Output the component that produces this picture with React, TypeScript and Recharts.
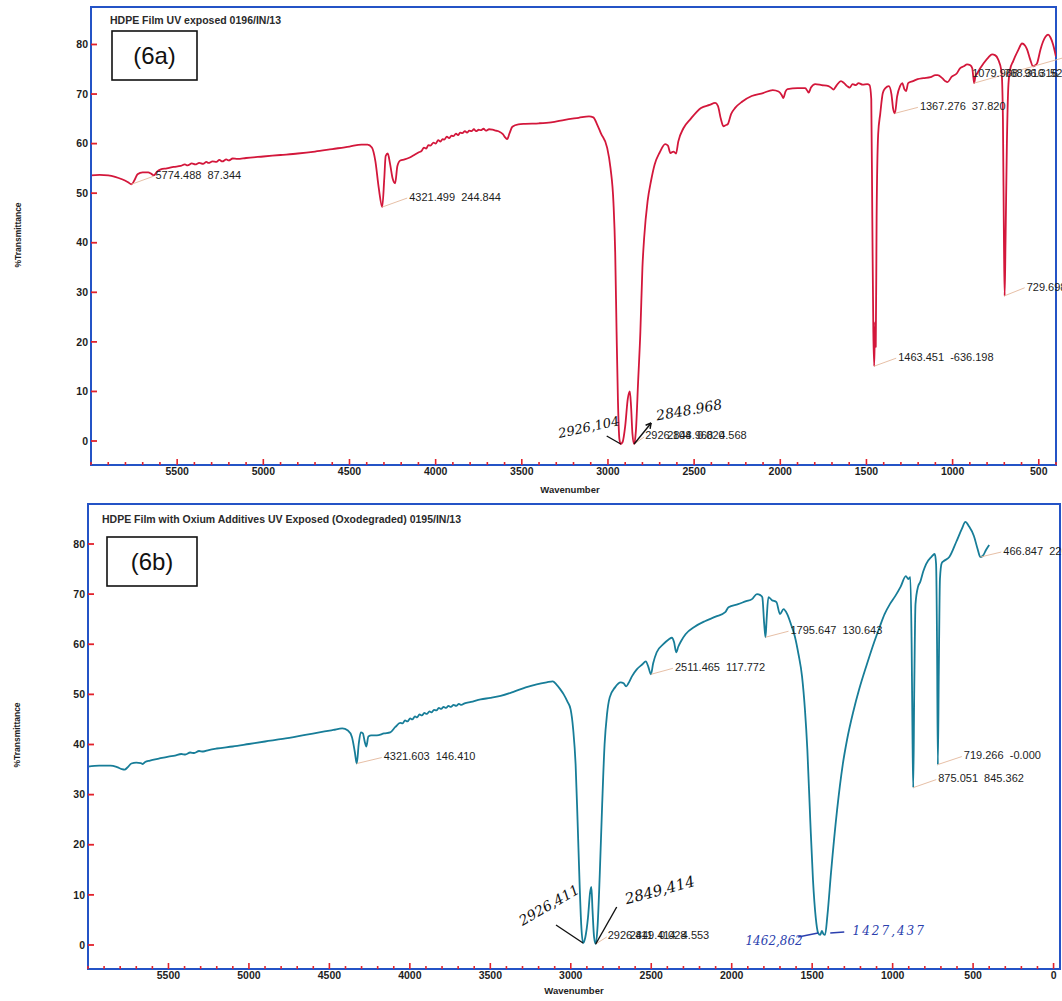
import React from 'react';
import { ComposedChart, Line, XAxis, YAxis, ReferenceArea, ReferenceDot } from 'recharts';

// ---- data: [wavenumber, %T] ----
const traceA: [number, number][] = [
  [6000, 53.6], [5950, 53.7], [5900, 53.6], [5860, 53.3], [5820, 52.8], [5785, 52.2], [5765, 51.8], [5748, 52.6],
  [5730, 53.8], [5700, 54.2], [5668, 54.2], [5650, 53.9], [5635, 53.6], [5618, 54.3], [5595, 54.8], [5560, 55.0],
  [5520, 55.3], [5480, 55.5], [5455, 55.8], [5440, 55.6], [5415, 56.0], [5395, 55.8], [5372, 56.1], [5350, 55.9],
  [5330, 56.3], [5318, 56.1], [5295, 56.4], [5272, 56.3], [5255, 56.7], [5238, 56.4], [5215, 56.8], [5200, 56.6],
  [5178, 57.0], [5150, 56.9], [5100, 57.1], [5000, 57.4], [4900, 57.7], [4800, 58.0], [4700, 58.4], [4600, 58.9],
  [4500, 59.4], [4430, 59.8], [4395, 59.8], [4370, 59.2], [4350, 56.5], [4330, 51.0], [4310, 47.2], [4298, 53.0],
  [4290, 57.5], [4278, 58.0], [4265, 56.0], [4250, 53.0], [4235, 52.0], [4222, 55.5], [4205, 56.6], [4180, 56.8],
  [4150, 57.2], [4120, 57.8], [4100, 58.2], [4080, 58.6], [4068, 59.2], [4055, 59.0], [4042, 59.7], [4030, 59.6],
  [4012, 60.2], [4000, 60.0], [3985, 60.7], [3972, 60.4], [3960, 60.9], [3950, 60.8], [3935, 61.4], [3922, 61.1],
  [3908, 61.6], [3898, 61.5], [3882, 62.0], [3870, 61.7], [3858, 62.2], [3845, 62.1], [3830, 62.5], [3818, 62.2],
  [3805, 62.6], [3792, 62.5], [3778, 62.9], [3765, 62.5], [3750, 62.8], [3738, 62.7], [3722, 63.0], [3708, 62.6],
  [3690, 62.9], [3670, 62.8], [3650, 62.6], [3630, 62.4], [3610, 61.9], [3595, 61.2], [3585, 60.9], [3572, 62.0],
  [3555, 63.4], [3520, 63.9], [3480, 64.0], [3400, 64.1], [3330, 64.3], [3250, 64.8], [3170, 65.2], [3110, 65.5],
  [3085, 65.3], [3062, 63.8], [3040, 62.0], [3005, 59.2], [2985, 55.0], [2968, 48.0], [2958, 38.0], [2950, 22.0],
  [2942, 8.0], [2934, 0.5], [2926, -0.6], [2915, -0.2], [2900, 3.0], [2885, 8.5], [2873, 10.0], [2866, 7.0],
  [2858, 1.5], [2848, -0.6], [2838, 2.0], [2825, 12.0], [2812, 22.0], [2800, 35.0], [2790, 41.0], [2770, 48.4],
  [2750, 52.5], [2729, 55.8], [2700, 58.2], [2668, 59.9], [2652, 59.6], [2638, 58.1], [2620, 58.4], [2605, 58.0],
  [2592, 60.4], [2562, 63.1], [2520, 65.0], [2460, 67.2], [2410, 67.8], [2378, 68.2], [2362, 67.6], [2345, 65.0],
  [2330, 63.5], [2318, 63.7], [2305, 63.9], [2285, 66.0], [2262, 67.2], [2220, 68.5], [2166, 69.6], [2100, 70.2],
  [2044, 70.8], [2010, 70.5], [1992, 69.8], [1982, 69.2], [1970, 70.5], [1958, 71.0], [1900, 71.2], [1855, 71.2],
  [1842, 70.6], [1835, 70.3], [1822, 71.3], [1797, 72.0], [1760, 71.8], [1720, 71.6], [1702, 71.2], [1692, 70.9],
  [1672, 71.8], [1648, 72.6], [1630, 72.2], [1612, 71.6], [1598, 71.3], [1580, 72.0], [1562, 71.8], [1546, 72.2],
  [1522, 71.9], [1495, 72.0], [1482, 71.8], [1472, 69.0], [1466, 45.0], [1460, 22.0], [1455, 15.1], [1450, 24.0],
  [1446, 19.0], [1441, 45.0], [1432, 61.9], [1420, 66.0], [1405, 70.2], [1390, 71.2], [1370, 71.6], [1355, 70.0],
  [1345, 67.0], [1335, 66.1], [1322, 69.5], [1305, 71.6], [1292, 72.2], [1280, 71.0], [1270, 70.6], [1258, 72.2],
  [1230, 72.6], [1203, 73.0], [1170, 73.2], [1128, 73.4], [1100, 73.8], [1087, 73.8], [1060, 73.2], [1042, 72.6],
  [1030, 72.4], [1005, 73.5], [975, 74.2], [957, 75.2], [935, 75.6], [916, 76.0], [897, 75.8], [886, 75.2],
  [880, 73.5], [875, 72.2], [868, 73.5], [857, 74.2], [820, 76.2], [792, 77.4], [771, 78.0], [752, 77.8],
  [736, 77.0], [716, 74.5], [708, 65.0], [702, 40.0], [698, 29.3], [693, 40.0], [685, 60.0], [676, 72.0],
  [666, 75.0], [649, 76.6], [620, 78.8], [597, 80.2], [580, 79.8], [568, 79.0], [550, 77.0], [533, 75.6],
  [520, 75.8], [510, 76.2], [490, 79.0], [475, 80.6], [460, 81.6], [446, 82.0], [432, 81.4], [417, 80.0],
  [400, 77.5],
];

const traceB: [number, number][] = [
  [6000, 35.6], [5930, 35.8], [5860, 35.8], [5820, 35.5], [5790, 35.1], [5772, 35.0], [5755, 35.4], [5730, 36.2],
  [5700, 36.4], [5672, 36.3], [5660, 36.1], [5645, 36.5], [5615, 36.8], [5560, 37.2], [5500, 37.6], [5460, 37.8],
  [5420, 38.1], [5395, 38.0], [5365, 38.4], [5340, 38.3], [5310, 38.7], [5285, 38.6], [5250, 38.9], [5200, 39.2],
  [5100, 39.6], [5000, 40.1], [4900, 40.6], [4790, 41.1], [4650, 41.9], [4530, 42.6], [4475, 42.9], [4420, 43.2],
  [4385, 42.8], [4360, 41.5], [4342, 38.5], [4330, 36.2], [4318, 40.0], [4305, 42.4], [4292, 42.2], [4280, 40.5],
  [4270, 39.6], [4258, 41.6], [4240, 41.8], [4205, 41.8], [4160, 42.2], [4122, 42.4], [4090, 43.5], [4060, 44.3],
  [4045, 44.2], [4030, 44.8], [4015, 44.6], [3998, 45.2], [3985, 45.0], [3968, 45.6], [3955, 45.4], [3940, 46.0],
  [3925, 45.8], [3910, 46.3], [3895, 46.1], [3878, 46.6], [3866, 46.4], [3850, 46.9], [3835, 46.8], [3820, 47.3],
  [3805, 47.1], [3790, 47.5], [3775, 47.3], [3760, 47.7], [3745, 47.5], [3728, 47.9], [3712, 47.7], [3695, 48.1],
  [3680, 47.9], [3660, 48.2], [3620, 48.5], [3560, 49.0], [3500, 49.3], [3436, 49.7], [3349, 50.6], [3280, 51.4],
  [3212, 52.0], [3150, 52.4], [3112, 52.6], [3090, 52.0], [3065, 51.0], [3044, 50.0], [3020, 48.5], [3001, 47.0],
  [2985, 43.0], [2970, 36.0], [2958, 25.0], [2945, 12.0], [2935, 4.0], [2924, 0.4], [2910, 1.5], [2893, 5.5],
  [2880, 10.5], [2872, 11.6], [2865, 7.0], [2855, 1.5], [2845, 0.2], [2833, 4.0], [2820, 14.0], [2805, 28.0],
  [2790, 40.0], [2775, 46.0], [2758, 49.4], [2725, 51.4], [2690, 52.4], [2672, 52.2], [2656, 51.6], [2642, 52.2],
  [2620, 53.6], [2590, 55.0], [2555, 56.0], [2534, 56.6], [2518, 55.5], [2502, 54.0], [2488, 56.2], [2466, 58.4],
  [2425, 60.0], [2390, 61.0], [2372, 61.3], [2358, 60.4], [2345, 58.4], [2332, 59.5], [2315, 60.6], [2287, 62.0],
  [2230, 63.5], [2167, 64.6], [2100, 65.5], [2040, 66.4], [2020, 67.4], [1960, 68.0], [1910, 68.6], [1874, 69.0],
  [1843, 70.0], [1822, 69.8], [1810, 69.4], [1798, 64.0], [1790, 61.4], [1783, 65.0], [1772, 69.4], [1750, 68.8],
  [1722, 68.4], [1700, 66.0], [1678, 67.0], [1655, 66.0], [1632, 64.0], [1608, 61.6], [1585, 58.0], [1563, 53.6],
  [1545, 47.0], [1530, 39.0], [1512, 25.0], [1495, 13.0], [1478, 5.5], [1463, 2.4], [1450, 2.0], [1440, 2.8],
  [1430, 2.2], [1420, 2.0], [1405, 6.0], [1383, 14.4], [1345, 27.0], [1310, 36.0], [1283, 41.0], [1245, 46.5],
  [1208, 51.0], [1160, 56.0], [1115, 60.4], [1080, 63.5], [1050, 66.0], [1017, 68.0], [984, 69.6], [950, 71.5],
  [918, 73.6], [902, 73.0], [890, 73.4], [882, 60.0], [876, 40.0], [872, 31.4], [866, 50.0], [858, 68.0],
  [842, 71.5], [829, 72.4], [810, 74.5], [792, 76.0], [760, 77.4], [738, 78.0], [730, 76.0], [724, 60.0],
  [719, 36.0], [713, 55.0], [706, 73.0], [695, 76.2], [682, 76.6], [648, 77.4], [605, 80.4], [570, 83.0],
  [548, 84.4], [525, 83.5], [495, 81.6], [472, 79.0], [455, 77.4], [440, 77.6], [420, 78.8], [400, 79.8],
];

const yTickValues = [0, 10, 20, 30, 40, 50, 60, 70, 80];
const xLabelsA = [5500, 5000, 4500, 4000, 3500, 3000, 2500, 2000, 1500, 1000, 500];
const xLabelsB = [5500, 5000, 4500, 4000, 3500, 3000, 2500, 2000, 1500, 1000, 500, 0];

const titleA = 'HDPE Film UV exposed 0196/IN/13';
const titleB = 'HDPE Film with Oxium Additives UV Exposed (Oxodegraded) 0195/IN/13';

// printed peak picks
const peaksA = [
  { w: 5765, t: 51.8, text: ['5774.488  87.344'] },
  { w: 4310, t: 47.2, text: ['4321.499  244.844'] },
  { w: 2848, t: -0.6, text: ['2926.104  0.020', '2848.968  4.568'] },
  { w: 1455, t: 15.1, text: ['1463.451  -636.198'] },
  { w: 1335, t: 66.1, text: ['1367.276  37.820'] },
  { w: 875, t: 72.2, text: ['1079.968  96.316', '768.316  524.683'] },
  { w: 698, t: 29.3, text: ['729.698  301.520'] },
];
const peaksB = [
  { w: 4330, t: 36.2, text: ['4321.603  146.410'] },
  { w: 2502, t: 54.0, text: ['2511.465  117.772'] },
  { w: 1790, t: 61.4, text: ['1795.647  130.643'] },
  { w: 455, t: 77.4, text: ['466.847  226.510'] },
  { w: 719, t: 36.0, text: ['719.266  -0.000'] },
  { w: 872, t: 31.4, text: ['875.051  845.362'] },
  { w: 2845, t: 0.2, text: ['2926.411  0.028', '2849.414  4.553'] },
];

// hand-written notes on the scan
const notesA = [
  { w: 2926, t: -0.6, text: '2926,104' },
  { w: 2848, t: -0.6, text: '2848.968' },
];
const notesB = [
  { w: 2924, t: 0.4, text: '2926,411' },
  { w: 2845, t: 0.2, text: '2849,414' },
  { w: 1463, t: 2.4, text: '1462,862' },
  { w: 1425, t: 2.0, text: '1427,437' },
];

// ---- styling ----
const BLUE = '#2453c6';
const RED = '#e2222c';
const INK = '#1d1d1d';
const LEADER = '#e3b89c';
const SANS = '"Liberation Sans", Arial, Helvetica, sans-serif';
const HAND = '"DejaVu Serif", "Liberation Serif", serif';

// label placement relative to the peak point: text offset, leader end, extra offset of overlapped text
const peakStyleA = [
  { tx: 24, ty: -9, lx: 22, ly: -8 },
  { tx: 27, ty: -10, lx: 25, ly: -9 },
  { tx: 11, ty: -9, lx: 10, ly: -7, tx2: 33 },
  { tx: 24, ty: -9, lx: 22, ly: -8 },
  { tx: 25, ty: -7, lx: 23, ly: -6 },
  { tx: -2, ty: -10, lx: 88, ly: -25, tx2: 30 },
  { tx: 22, ty: -9, lx: 20, ly: -8 },
];
const peakStyleB = [
  { tx: 27, ty: -7, lx: 25, ly: -6 },
  { tx: 24, ty: -7, lx: 22, ly: -6 },
  { tx: 25, ty: -7, lx: 23, ly: -6 },
  { tx: 23, ty: -6, lx: 21, ly: -5 },
  { tx: 26, ty: -9, lx: 24, ly: -8 },
  { tx: 25, ty: -9, lx: 23, ly: -8 },
  { tx: 12, ty: -9, lx: 11, ly: -7, tx2: 34 },
];
// hand notes: text centre + rotation, stroke from (ax,ay) to (bx,by)
const noteStyleA = [
  { cx: -32, cy: -17, rot: -12, ax: -14, ay: -8, bx: 0, by: 0, size: 13, color: '#111' },
  { cx: 55, cy: -34, rot: -10, ax: 0, ay: 0, bx: 17, by: -21, arrow: true, size: 14, color: '#111' },
];
const noteStyleB = [
  { cx: -34, cy: -38, rot: -30, ax: -27, ay: -18, bx: 0, by: 0, size: 14, color: '#111' },
  { cx: 64, cy: -54, rot: -15, ax: 0, ay: 0, bx: 21, by: -37, size: 15, color: '#111' },
  { cx: -44, cy: 8, rot: 0, ax: -20, ay: 4, bx: 0, by: 0, size: 12, color: '#2b3fae' },
  { cx: 65, cy: -4, rot: 0, ax: 6, ay: -2, bx: 20, by: -3, size: 12, color: '#2b3fae', spacing: 2 },
];

function hundreds(from: number, to: number) {
  const out: number[] = [];
  for (let v = from; v >= to; v -= 100) out.push(v);
  return out;
}

function makeXTick(labels: number[]) {
  return (p: any) => {
    const v = p.payload.value;
    const major = labels.includes(v);
    return (
      <g>
        <line x1={p.x} x2={p.x} y1={p.y} y2={p.y - (major ? 6 : 3)} stroke={RED} strokeWidth={1.6} />
        {major && (
          <text x={p.x} y={p.y + 10} textAnchor="middle" fontFamily={SANS} fontWeight="bold" fontSize={10.5} fill={INK}>
            {v}
          </text>
        )}
      </g>
    );
  };
}

function YTick(p: any) {
  return (
    <g>
      <line x1={p.x} x2={p.x + 6} y1={p.y} y2={p.y} stroke={RED} strokeWidth={1.8} />
      <text x={p.x - 3} y={p.y} dy="0.35em" textAnchor="end" fontFamily={SANS} fontWeight="bold" fontSize={10.5} fill={INK}>
        {p.payload.value}
      </text>
    </g>
  );
}

function PeakLabel(props: any) {
  const { cx, cy, text, s } = props;
  return (
    <g>
      <line x1={cx} y1={cy} x2={cx + s.lx} y2={cy + s.ly} stroke={LEADER} strokeWidth={0.9} />
      {text.map((tx: string, i: number) => (
        <text
          key={i}
          x={cx + (i === 0 ? s.tx : s.tx2)}
          y={cy + s.ty}
          dy="0.35em"
          fontFamily={SANS}
          fontSize={11}
          fill={INK}
          style={{ whiteSpace: 'pre' }}
        >
          {tx}
        </text>
      ))}
    </g>
  );
}

function HandNote(props: any) {
  const { cx, cy, text, s } = props;
  const x2 = cx + s.bx;
  const y2 = cy + s.by;
  const ang = Math.atan2(s.by - s.ay, s.bx - s.ax);
  return (
    <g>
      <line x1={cx + s.ax} y1={cy + s.ay} x2={x2} y2={y2} stroke={s.color} strokeWidth={1.4} />
      {s.arrow && (
        <path
          d={`M${x2},${y2} L${x2 - 6 * Math.cos(ang - 0.5)},${y2 - 6 * Math.sin(ang - 0.5)} M${x2},${y2} L${x2 - 6 * Math.cos(ang + 0.5)},${y2 - 6 * Math.sin(ang + 0.5)}`}
          stroke={s.color}
          strokeWidth={1.4}
          fill="none"
        />
      )}
      <text
        x={cx + s.cx}
        y={cy + s.cy}
        dy="0.35em"
        textAnchor="middle"
        transform={`rotate(${s.rot} ${cx + s.cx} ${cy + s.cy})`}
        fontFamily={HAND}
        fontStyle="italic"
        fontSize={s.size}
        letterSpacing={s.spacing || 0}
        fill={s.color}
      >
        {text}
      </text>
    </g>
  );
}

type PanelProps = {
  trace: [number, number][];
  color: string;
  xDomain: [number, number];
  yDomain: [number, number];
  xTicks: number[];
  xLabels: number[];
  peaks: { w: number; t: number; text: string[] }[];
  peakStyle: any[];
  notes: { w: number; t: number; text: string }[];
  noteStyle: any[];
  height: number;
  margin: { top: number; right: number; bottom: number; left: number };
  title: string;
  tag: string;
  overlay: { title: [number, number]; box: [number, number, number, number]; yLabel: [number, number]; xLabel: [number, number] };
};

function SpectrumPanel(p: PanelProps) {
  const data = p.trace.map(([w, t]) => ({ w, t }));
  const [bx, by, bw, bh] = p.overlay.box;
  return (
    <div style={{ position: 'relative', width: 1062, height: p.height }}>
      <ComposedChart width={1062} height={p.height} margin={p.margin}>
        <XAxis
          type="number"
          dataKey="w"
          domain={p.xDomain}
          reversed
          allowDataOverflow
          ticks={p.xTicks}
          interval={0}
          height={1}
          tickSize={0}
          tickMargin={0}
          tick={makeXTick(p.xLabels)}
          axisLine={{ stroke: BLUE, strokeWidth: 2 }}
          tickLine={false}
        />
        <YAxis
          type="number"
          dataKey="t"
          domain={p.yDomain}
          allowDataOverflow
          ticks={yTickValues}
          interval={0}
          width={1}
          tickSize={0}
          tickMargin={0}
          tick={YTick}
          axisLine={{ stroke: BLUE, strokeWidth: 2 }}
          tickLine={false}
        />
        <ReferenceArea
          x1={p.xDomain[1]}
          x2={p.xDomain[0]}
          y1={p.yDomain[0]}
          y2={p.yDomain[1]}
          fill="none"
          fillOpacity={0}
          stroke={BLUE}
          strokeWidth={2}
          ifOverflow="visible"
        />
        <Line
          data={data}
          dataKey="t"
          type="monotoneX"
          stroke={p.color}
          strokeWidth={1.8}
          strokeLinejoin="round"
          dot={false}
          activeDot={false}
          isAnimationActive={false}
        />
        {p.peaks.map((pk, i) => (
          <ReferenceDot
            key={'pk' + i}
            x={pk.w}
            y={pk.t}
            r={0}
            ifOverflow="visible"
            shape={(sp: any) => <PeakLabel cx={sp.cx} cy={sp.cy} text={pk.text} s={p.peakStyle[i]} />}
          />
        ))}
        {p.notes.map((nt, i) => (
          <ReferenceDot
            key={'nt' + i}
            x={nt.w}
            y={nt.t}
            r={0}
            ifOverflow="visible"
            shape={(sp: any) => <HandNote cx={sp.cx} cy={sp.cy} text={nt.text} s={p.noteStyle[i]} />}
          />
        ))}
      </ComposedChart>
      <svg
        width={1062}
        height={p.height}
        style={{ position: 'absolute', left: 0, top: 0, pointerEvents: 'none' }}
      >
        <text x={p.overlay.title[0]} y={p.overlay.title[1]} fontFamily={SANS} fontWeight="bold" fontSize={10.5} fill="#2a2a2a">
          {p.title}
        </text>
        <rect x={bx} y={by} width={bw} height={bh} fill="#fff" stroke="#111" strokeWidth={1.6} />
        <text x={bx + bw / 2} y={by + bh / 2} dy="0.35em" textAnchor="middle" fontFamily={SANS} fontSize={24} fill="#111">
          {p.tag}
        </text>
        <text
          x={p.overlay.yLabel[0]}
          y={p.overlay.yLabel[1]}
          textAnchor="middle"
          dy="0.35em"
          transform={`rotate(-90 ${p.overlay.yLabel[0]} ${p.overlay.yLabel[1]})`}
          fontFamily={SANS}
          fontWeight="bold"
          fontSize={8.5}
          fill={INK}
        >
          %Transmittance
        </text>
        <text x={p.overlay.xLabel[0]} y={p.overlay.xLabel[1]} textAnchor="middle" fontFamily={SANS} fontWeight="bold" fontSize={9.5} fill={INK}>
          Wavenumber
        </text>
      </svg>
    </div>
  );
}

export default function App() {
  return (
    <div style={{ position: 'absolute', left: 0, top: 0, width: 1062, height: 1001, background: '#fff', overflow: 'hidden' }}>
      <div style={{ position: 'absolute', left: 0, top: 0 }}>
        <SpectrumPanel
          trace={traceA}
          color="#d3173b"
          xDomain={[400, 6000]}
          yDomain={[-4.84, 87.56]}
          xTicks={hundreds(6000, 400)}
          xLabels={xLabelsA}
          peaks={peaksA}
          peakStyle={peakStyleA}
          notes={notesA}
          noteStyle={noteStyleA}
          height={500}
          margin={{ top: 7, right: 6, bottom: 34, left: 90 }}
          title={titleA}
          tag="(6a)"
          overlay={{ title: [110, 24], box: [112, 31, 85, 49], yLabel: [18, 235], xLabel: [570, 493] }}
        />
      </div>
      <div style={{ position: 'absolute', left: 0, top: 500 }}>
        <SpectrumPanel
          trace={traceB}
          color="#177d98"
          xDomain={[-40, 6000]}
          yDomain={[-4.79, 87.98]}
          xTicks={hundreds(6000, 0)}
          xLabels={xLabelsB}
          peaks={peaksB}
          peakStyle={peakStyleB}
          notes={notesB}
          noteStyle={noteStyleB}
          height={501}
          margin={{ top: 4, right: 2, bottom: 31, left: 87 }}
          title={titleB}
          tag="(6b)"
          overlay={{ title: [102, 23], box: [107, 37, 90, 49], yLabel: [17, 235], xLabel: [574, 494] }}
        />
      </div>
    </div>
  );
}
